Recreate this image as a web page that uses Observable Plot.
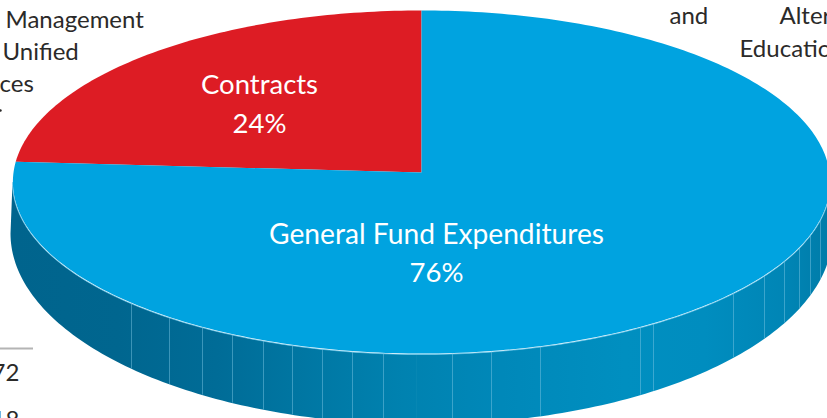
<!DOCTYPE html>
<html><head><meta charset="utf-8">
<script src="https://cdn.jsdelivr.net/npm/d3@7"></script>
<script src="https://cdn.jsdelivr.net/npm/@observablehq/plot@0.6"></script>
<style>html,body{margin:0;padding:0;background:#fff;overflow:hidden}svg{display:block;overflow:hidden}</style>
</head><body><div id="chart"></div>
<script>
const sliceNames = ["Contracts", "General Fund Expenditures"];
const sliceShares = [24, 76];
const sliceColors = ["#dd1c24", "#00a3e0"];
const seamX = [131,169,202,232,263,292,322,352,383,416,452,491,540,640,653,733,764,784,799,810,820];
const gradientOffsets = [0, 0.13, 0.25, 0.35, 0.48, 0.6, 0.75, 0.85, 0.95, 1];
const gradientColors = ["#00648d","#00668f","#006c97","#0076a2","#0082b0","#0088b9","#008fc0","#008dbf","#0085b5","#007ca9"];
const sideLabels = [
  ["Management",5,20],["Unified",2,52],["ces",-1,84],["and",669,16],["Alter",779,16],["Educatio",739,49],["72",-9,373],["18",-9,420]
];

// Pie geometry: a unit circle seen in perspective
const W = 827, H = 418, apex = [421,172], RX = 408, RY = 171, K = 0.0554;
const project = (a) => { // a: fraction of the circle clockwise from 12 o'clock
  const t = a * 2 * Math.PI, cx = Math.sin(t), cy = -Math.cos(t), d = 1 - K * cy;
  return {x: apex[0] + RX * cx / d, y: apex[1] + RY * cy / d};
};
const sum = d3.sum(sliceShares);
const wedge = (from, span) => {
  const pts = [{x: apex[0], y: apex[1]}];
  const n = Math.max(8, Math.round(span * 360));
  for (let i = 0; i <= n; i++) pts.push(project(from + span * i / n));
  return pts;
};
const faces = sliceNames.map((name, i) => {
  const span = sliceShares[i] / sum;
  const from = i === 0 ? -span : 0;
  return wedge(from, span).map(p => ({...p, name}));
}).flat();

// Rim: front half of top ellipse and of base ellipse
const topC = {cx:421, cy:182, rx:409, ry:172}, baseC = {cx:421, cy:233, rx:411, ry:191};
const arc = (e) => d3.range(0, 181).map(i => {
  const t = i * Math.PI / 180;
  return {x: e.cx + e.rx * Math.cos(t), y: e.cy + e.ry * Math.sin(t)};
});
const topArc = arc(topC), baseArc = arc(baseC);
const sideOutline = [...topArc, ...baseArc.slice().reverse()];
const lower = (e, x) => e.cy + e.ry * Math.sqrt(Math.max(0, 1 - ((x - e.cx) / e.rx) ** 2));

const defs = () => {
  const svg = d3.create("svg:g");
  const g = svg.append("defs").append("linearGradient").attr("id","sideGrad")
    .attr("gradientUnits","userSpaceOnUse").attr("x1",12).attr("x2",827).attr("y1",0).attr("y2",0);
  gradientOffsets.forEach((o,i) => g.append("stop").attr("offset",o).attr("stop-color",gradientColors[i]));
  return svg.node();
};

const labelFont = "Lato, Carlito, sans-serif";
const chart = Plot.plot({
  width: W, height: H, margin: 0,
  style: {background:"#fff", fontFamily: labelFont},
  x: {domain:[0,W], range:[0,W], axis:null},
  y: {domain:[0,H], range:[0,H], axis:null},
  marks: [
    defs,
    Plot.line(sideOutline, {x:"x", y:"y", fill:"url(#sideGrad)", stroke:"none", curve:"linear"}),
    Plot.ruleX(seamX, {x: d=>d, y1: d=>lower(topC,d), y2: d=>lower(baseC,d), stroke:"#7cc6e4", strokeWidth:0.8, strokeOpacity:d=>d===416?0.08:0.6}),
    Plot.line(faces, {x:"x", y:"y", z:"name", fill:"name", stroke:"none", curve:"linear"}),
    Plot.line(topArc, {x:"x", y:"y", stroke:"#66c4ea", strokeWidth:0.7}),
    Plot.ruleY([348], {x1:0, x2:33, stroke:"#b4b4b4", strokeWidth:2}),
    Plot.text(sideLabels, {x:d=>d[1], y:d=>d[2], text:d=>d[0], textAnchor:"start", lineAnchor:"middle", fontSize:24, fill:"#2b2a29"}),
    Plot.dot([[0,110]], {x:d=>d[0], y:d=>d[1], r:1.2, fill:"#2b2a29"}),
    Plot.text([sliceNames[0]], {x:()=>259, y:()=>85, textAnchor:"middle", lineAnchor:"middle", fontSize:27.5, fill:"#fff"}),
    Plot.text([sliceShares[0]+"%"], {x:()=>259, y:()=>124, textAnchor:"middle", lineAnchor:"middle", fontSize:27.5, fill:"#fff"}),
    Plot.text([sliceNames[1]], {x:()=>436, y:()=>234, textAnchor:"middle", lineAnchor:"middle", fontSize:28.2, fill:"#fff"}),
    Plot.text([sliceShares[1]+"%"], {x:()=>436, y:()=>273, textAnchor:"middle", lineAnchor:"middle", fontSize:27.5, fill:"#fff"})
  ],
  color: {domain: sliceNames, range: sliceColors}
});
document.getElementById("chart").append(chart);
</script></body></html>
